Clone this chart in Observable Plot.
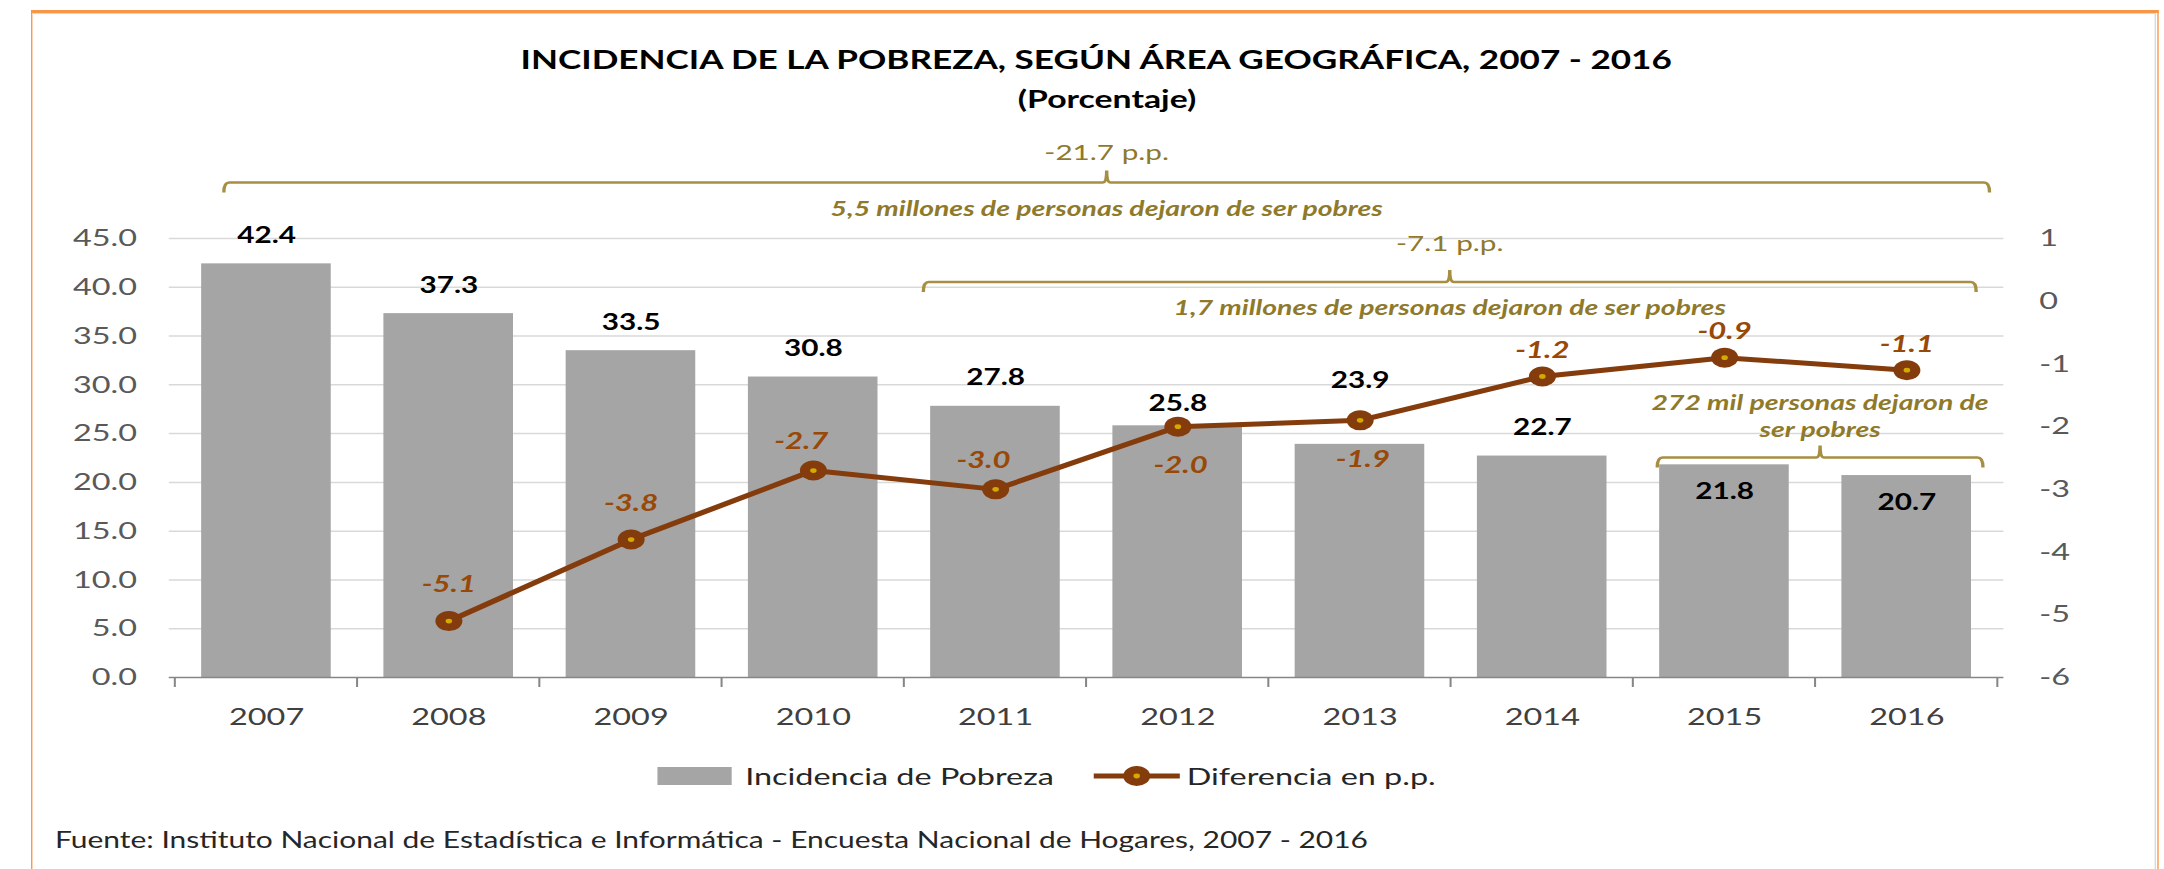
<!DOCTYPE html>
<html>
<head>
<meta charset="utf-8">
<script src="https://cdn.jsdelivr.net/npm/d3@7"></script>
<script src="https://cdn.jsdelivr.net/npm/@observablehq/plot@0.6"></script>
<style>
  html, body { margin: 0; padding: 0; background: #fff; overflow: hidden; }
  #page { position: relative; width: 1603px; height: 869px; transform: scaleX(1.35); transform-origin: 0 0; font-family: Lato, sans-serif; }
  #frame { position: absolute; left: 22.5px; top: 10px; width: 1576px; height: 900px; border-top: 3px solid #f79646; border-left: 1.6px solid #f79646; border-right: 1.6px solid #f79646; box-sizing: border-box; }
  #frameInner { position: absolute; left: 24px; top: 13px; width: 1573px; height: 900px; border-top: 1px solid #d9d9d9; border-right: 1.5px solid #d9d9d9; box-sizing: border-box; }
  .t { position: absolute; white-space: nowrap; }
  #title { left: 212px; width: 1200px; text-align: center; top: 43px; font-size: 26px; line-height: 32px; font-weight: bold; color: #000; }
  #subtitle { left: 220px; width: 1200px; text-align: center; top: 83px; font-size: 25px; line-height: 30px; font-weight: bold; color: #000; }
  #chart { position: absolute; left: 0; top: 120px; }
  #swatchBar { position: absolute; left: 486.7px; top: 767px; width: 55px; height: 18px; background: #a5a5a5; }
  .legText { font-size: 24px; line-height: 30px; top: 761px; color: #262626; }
  #legLine { position: absolute; left: 810px; top: 762px; }
  #caption { left: 40.7px; top: 826px; font-size: 22.2px; line-height: 28px; color: #262626; }
</style>
</head>
<body>
<div id="page">
  <div id="frame"></div>
  <div id="frameInner"></div>
  <div id="title" class="t"></div>
  <div id="subtitle" class="t"></div>
  <div id="chart"></div>
  <div id="swatchBar"></div>
  <div id="leg1" class="t legText" style="left:552px"></div>
  <svg id="legLine" width="64" height="28"></svg>
  <div id="leg2" class="t legText" style="left:879px"></div>
  <div id="caption" class="t"></div>
</div>
<script>
// ---------------- data ----------------
const titleText = "INCIDENCIA DE LA POBREZA, SEGÚN ÁREA GEOGRÁFICA, 2007 - 2016";
const subtitleText = "(Porcentaje)";
const captionText = "Fuente: Instituto Nacional de Estadística e Informática - Encuesta Nacional de Hogares, 2007 - 2016";
const seriesNames = ["Incidencia de Pobreza", "Diferencia en p.p."];

const years = ["2007", "2008", "2009", "2010", "2011", "2012", "2013", "2014", "2015", "2016"];
const incidencia = [42.4, 37.3, 33.5, 30.8, 27.8, 25.8, 23.9, 22.7, 21.8, 20.7];
const diferencia = [null, -5.1, -3.8, -2.7, -3.0, -2.0, -1.9, -1.2, -0.9, -1.1];

const leftTicks = [0, 5, 10, 15, 20, 25, 30, 35, 40, 45];
const rightTicks = [-6, -5, -4, -3, -2, -1, 0, 1];

const bracketFrom = ["2007", "2011", "2015"];
const bracketTo = ["2016", "2016", "2016"];
const bracketValue = ["-21.7 p.p.", "-7.1 p.p.", ""];
const bracketNote = [
  ["5,5 millones de personas dejaron de ser pobres"],
  ["1,7 millones de personas dejaron de ser pobres"],
  ["272 mil personas dejaron de", "ser pobres"]
];

// ---------------- styling ----------------
const W = 1603, H = 620, ML = 125, MR = 119, MT = 118, MB = 63;
const barGray = "#a5a5a5", brown = "#843c0c", labelBrown = "#984807", markerGold = "#d4a900";
const gold = "#8f7a2c", goldLine = "#a68f43", axisText = "#595959";
const leftMax = leftTicks[leftTicks.length - 1];
const rMin = rightTicks[0], rMax = rightTicks[rightTicks.length - 1];
const toLeft = v => (v - rMin) * leftMax / (rMax - rMin);
const fromLeft = d => Math.round(d * (rMax - rMin) / leftMax + rMin);

document.getElementById("title").textContent = titleText;
document.getElementById("subtitle").textContent = subtitleText;
document.getElementById("caption").textContent = captionText;
document.getElementById("leg1").textContent = seriesNames[0];
document.getElementById("leg2").textContent = seriesNames[1];

const data = years.map((year, i) => ({year, inc: incidencia[i], dif: diferencia[i]}));
const lineData = data.filter(d => d.dif != null);

function barLabels(sel, dy) {
  return Plot.text(data.filter(d => sel.includes(d.year)), {
    x: "year", y: "inc", text: d => d.inc.toFixed(1), dy,
    fontSize: 22, fontWeight: "bold", fill: "#000"
  });
}
function lineLabels(sel, dy, dx = 0) {
  return Plot.text(lineData.filter(d => sel.includes(d.year)), {
    x: "year", y: d => toLeft(d.dif), text: d => d.dif.toFixed(1), dy, dx,
    fontSize: 23, fontWeight: "bold", fontStyle: "italic", fill: labelBrown
  });
}

const chart = Plot.plot({
  width: W, height: H,
  marginLeft: ML, marginRight: MR, marginTop: MT, marginBottom: MB,
  style: {fontFamily: "Lato, sans-serif", background: "transparent", overflow: "visible"},
  x: {type: "band", domain: years, paddingInner: 0.2857, paddingOuter: 0.14285, label: null},
  y: {domain: [0, leftMax], label: null},
  marks: [
    Plot.gridY(leftTicks.filter(t => t > 0), {stroke: "#d9d9d9", strokeOpacity: 1, strokeWidth: 1.5}),
    Plot.barY(data, {x: "year", y: "inc", fill: barGray}),
    Plot.ruleY([0], {stroke: "#868686", strokeWidth: 1.5}),
    Plot.axisY(leftTicks, {anchor: "left", label: null, tickSize: 0, tickPadding: 24, tickFormat: d => d.toFixed(1), fontSize: 24, fill: axisText}),
    Plot.axisY(rightTicks.map(toLeft), {anchor: "right", label: null, tickSize: 0, tickPadding: 26, tickFormat: d => String(fromLeft(d)), fontSize: 24, fill: axisText}),
    Plot.axisX({label: null, tickSize: 0, tickPadding: 30, fontSize: 24, fill: "#404040"}),
    Plot.line(lineData, {x: "year", y: d => toLeft(d.dif), stroke: brown, strokeWidth: 5}),
    Plot.dot(lineData, {x: "year", y: d => toLeft(d.dif), r: 10, fill: brown}),
    Plot.dot(lineData, {x: "year", y: d => toLeft(d.dif), r: 2.4, fill: markerGold}),
    barLabels(["2007", "2008", "2009", "2010", "2011", "2014"], -28),
    barLabels(["2012"], -22),
    barLabels(["2013"], -63),
    barLabels(["2015", "2016"], 27),
    lineLabels(["2008", "2009"], -36),
    lineLabels(["2010", "2011"], -29, -9),
    lineLabels(["2012", "2013"], 39, 2),
    lineLabels(["2014", "2015", "2016"], -26)
  ]
});
document.getElementById("chart").appendChild(chart);

// ---------- axis boundary ticks and brackets through the plot's own scales ----------
const xs = chart.scale("x"), ys = chart.scale("y");
const step = xs.step, bw = xs.bandwidth;
const svg = d3.select(chart);
const baseY = ys.apply(0);
const g = svg.append("g");
const boundaries = years.map(y => xs.apply(y) - (step - bw) / 2).concat([xs.apply(years[years.length - 1]) + bw + (step - bw) / 2]);
g.selectAll("line.bt").data(boundaries).join("line")
  .attr("x1", d => d).attr("x2", d => d).attr("y1", baseY).attr("y2", baseY + 10)
  .attr("stroke", "#868686").attr("stroke-width", 1.5);

// bracket placement (in band steps from centres, and in left-axis units)
const bracketPlace = [
  {a: -0.231, b: 0.457, level: 50.7, up: 30, down: 26},
  {a: -0.393, b: 0.384, level: 40.5, up: 39, down: 26},
  {a: -0.366, b: 0.421, level: 22.5, up: 0, down: 0}
];
const center = y => xs.apply(y) + bw / 2;
bracketPlace.forEach((p, i) => {
  const x1 = center(bracketFrom[i]) + p.a * step;
  const x2 = center(bracketTo[i]) + p.b * step;
  const yy = ys.apply(p.level);
  const mid = (x1 + x2) / 2;
  const path = `M${x1},${yy + 10} Q${x1},${yy} ${x1 + 4},${yy} L${mid - 3},${yy} Q${mid},${yy} ${mid},${yy - 12} Q${mid},${yy} ${mid + 3},${yy} L${x2 - 4},${yy} Q${x2},${yy} ${x2},${yy + 10}`;
  g.append("path").attr("d", path).attr("fill", "none").attr("stroke", goldLine).attr("stroke-width", 2.5);
  if (bracketValue[i]) {
    g.append("text").attr("x", mid).attr("y", yy - p.up).attr("dy", "0.35em")
      .attr("text-anchor", "middle").attr("font-size", 22).attr("fill", gold).text(bracketValue[i]);
  }
  const lines = bracketNote[i];
  lines.forEach((t, j) => {
    const ty = i === 2 ? yy - 55 + j * 27 : yy + p.down;
    g.append("text").attr("x", mid).attr("y", ty).attr("dy", "0.35em")
      .attr("text-anchor", "middle").attr("font-size", 21).attr("font-weight", "bold")
      .attr("font-style", "italic").attr("fill", gold).text(t);
  });
});

// legend line sample
const leg = d3.select("#legLine");
leg.append("line").attr("x1", 0).attr("x2", 64).attr("y1", 14).attr("y2", 14).attr("stroke", brown).attr("stroke-width", 5);
leg.append("circle").attr("cx", 32).attr("cy", 14).attr("r", 10).attr("fill", brown);
leg.append("circle").attr("cx", 32).attr("cy", 14).attr("r", 2.4).attr("fill", markerGold);
</script>
</body>
</html>
